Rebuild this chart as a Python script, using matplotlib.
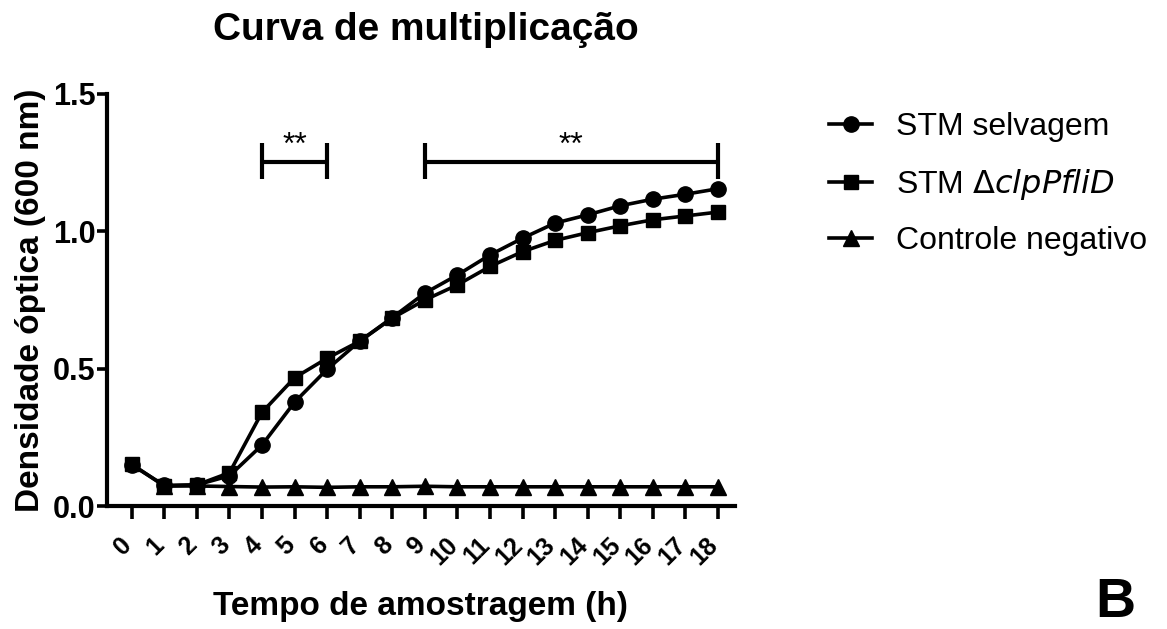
import matplotlib
matplotlib.use("Agg")
import matplotlib.pyplot as plt
import matplotlib.transforms as mtransforms
import numpy as np

plt.rcParams['font.family'] = ['Liberation Sans', 'DejaVu Sans']

hours = list(range(19))
wild = [0.15, 0.075, 0.077, 0.11, 0.222, 0.378, 0.498, 0.600, 0.686, 0.775, 0.841, 0.914, 0.975, 1.030, 1.060, 1.093, 1.117, 1.135, 1.155]
mutant = [0.152, 0.073, 0.077, 0.121, 0.341, 0.467, 0.538, 0.600, 0.684, 0.750, 0.805, 0.872, 0.926, 0.967, 0.995, 1.020, 1.042, 1.056, 1.070]
control = [np.nan, 0.073, 0.073, 0.071, 0.069, 0.070, 0.068, 0.070, 0.070, 0.072, 0.070, 0.070, 0.070, 0.070, 0.070, 0.070, 0.070, 0.070, 0.070]
labels = ["STM selvagem", r"STM $\Delta\mathit{clpPfliD}$", "Controle negativo"]
sig_ranges = [(4, 6), (9, 18)]
sig_text = "**"

fig = plt.figure(figsize=(11.67, 6.29), dpi=100)
ax = fig.add_axes([0.0914, 0.1955, 0.5386, 0.6551])

lw = 2.6
h1, = ax.plot(hours, wild, '-o', color='black', lw=lw, ms=11, label=labels[0], zorder=3)
h2, = ax.plot(hours, mutant, '-s', color='black', lw=lw, ms=10, label=labels[1], zorder=4)
h3, = ax.plot(hours, control, '-^', color='black', lw=lw, ms=11, label=labels[2], zorder=2)

for (a, b) in sig_ranges:
    yb = 1.254
    ax.plot([a, b], [yb, yb], color='black', lw=3, solid_capstyle='butt', clip_on=False)
    ax.plot([a, a], [1.19, 1.32], color='black', lw=3, solid_capstyle='butt', clip_on=False)
    ax.plot([b, b], [1.19, 1.32], color='black', lw=3, solid_capstyle='butt', clip_on=False)
    ax.text((a + b) / 2, 1.255, sig_text, ha='center', va='bottom', fontsize=23)

ax.set_xlim(-0.77, 18.53)
ax.set_ylim(0, 1.5)
ax.set_yticks([0.0, 0.5, 1.0, 1.5])
ax.set_yticklabels(["0.0", "0.5", "1.0", "1.5"], fontsize=22, fontweight='bold')
ax.set_xticks(hours)
for s in ['top', 'right']:
    ax.spines[s].set_visible(False)
for s in ['left', 'bottom']:
    ax.spines[s].set_linewidth(3)
ax.tick_params(axis='both', direction='out', width=2.6)
ax.tick_params(axis='x', length=9, pad=10)
ax.tick_params(axis='y', length=7, pad=1)
ax.set_xticklabels([str(h) for h in hours], rotation=45, fontsize=18, fontweight='bold',
                   ha='right', va='top')
offset = mtransforms.ScaledTranslation(5 / 100, 0, fig.dpi_scale_trans)
for lab in ax.get_xticklabels():
    lab.set_transform(lab.get_transform() + offset)

ax.set_ylabel("Densidade óptica (600 nm)", fontsize=24, fontweight='bold', labelpad=5)
ax.set_xlabel("Tempo de amostragem (h)", fontsize=24, fontweight='bold', labelpad=16)
fig.text(0.365, 0.952, "Curva de multiplicação", ha='center', va='center', fontsize=28, fontweight='bold')

leg = fig.legend(handles=[h1, h2, h3], loc='upper left', bbox_to_anchor=(0.686, 0.867),
                 frameon=False, fontsize=23, handlelength=1.35, labelspacing=0.76, handletextpad=0.75)

fig.text(0.956, 0.0, "B", ha='center', va='bottom', fontsize=40, fontweight='bold')

fig.savefig("out.png", dpi=100)
